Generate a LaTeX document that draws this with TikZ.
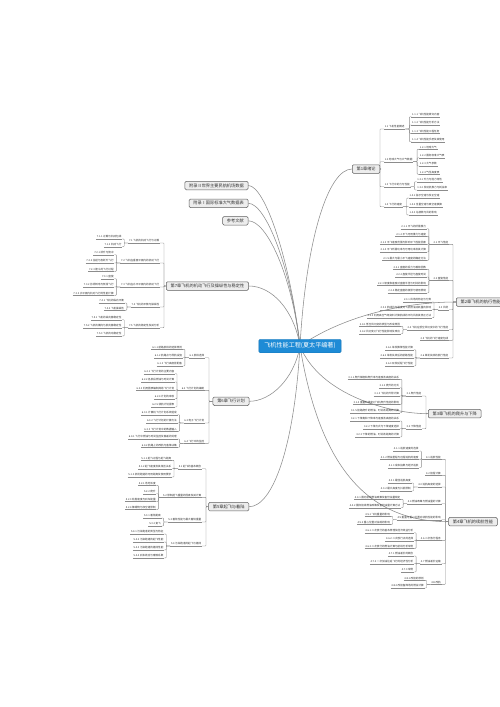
\documentclass[tikz,border=0pt]{standalone}
\usepackage{fontspec}
\setmainfont{Noto Sans CJK SC}
\usetikzlibrary{calc,backgrounds}
\definecolor{lnc}{HTML}{8C8C8C}
\definecolor{txt}{HTML}{333333}
\definecolor{rootblue}{HTML}{1E8BD6}
\definecolor{chapfill}{HTML}{EDEDED}
\definecolor{chapdraw}{HTML}{5E5E5E}
\newcommand\Lsub[4]{\node[tnode,anchor=east] (#1) at (#2,#3) {#4};}
\newcommand\Rsub[4]{\node[tnode,anchor=west] (#1) at (#2,#3) {#4};}
\newcommand\Lleaf[4]{%
  \path (#2.west) ++(-6,0) coordinate (#1-p);
  \node[tnode,anchor=east] (#1) at (#1-p |- 0,#3) {#4};
  \draw[conn] (#2.south west) -| ([xshift=2pt]#1.south east) -- (#1.south east);}
\newcommand\Rleaf[4]{%
  \path (#2.east) ++(6,0) coordinate (#1-p);
  \node[tnode,anchor=west] (#1) at (#1-p |- 0,#3) {#4};
  \draw[conn] (#2.south east) -| ([xshift=-2pt]#1.south west) -- (#1.south west);}
\newcommand\Lch[2]{\draw[conn] (#1.west) -| ([xshift=4pt]#2.south east) -- (#2.south east);}
\newcommand\Rch[2]{\draw[conn] (#1.east) -| ([xshift=-4pt]#2.south west) -- (#2.south west);}
\begin{document}
\begin{tikzpicture}[x=1pt,y=-1pt,
  conn/.style={draw=lnc,line width=0.4pt,rounded corners=0.7pt},
  curve/.style={draw=lnc,line width=0.55pt},
  root/.style={fill=rootblue,draw=rootblue!85!black,line width=0.4pt,rounded corners=1.3pt,text=white,
    font=\fontsize{6.1}{6.1}\selectfont,inner xsep=5.5pt,inner ysep=0pt,minimum height=13.5pt},
  chap/.style={fill=chapfill,draw=chapdraw,line width=0.5pt,rounded corners=1.3pt,text=txt,
    font=\fontsize{4.2}{4.2}\selectfont,inner xsep=4.3pt,inner ysep=0pt,minimum height=8.5pt},
  tnode/.style={text=txt,font=\fontsize{2.6}{2.6}\selectfont,inner xsep=0.6pt,inner ysep=0pt,
    text height=2.1pt,text depth=0.6pt,minimum height=3.6pt,
    append after command={(\tikzlastnode.south west) edge[conn] (\tikzlastnode.south east)}}]
\useasboundingbox (0,0) rectangle (500,707);
% ---------- first-level nodes ----------
\node[root] (root) at (300,346) {飞机性能工程(夏太平编著)};
\node[chap,anchor=east] (a2) at (248.3,185.5) {附录Ⅱ世界主要民航机场数据};
\node[chap,anchor=east] (a1) at (248.3,203.3) {附录Ⅰ国际标准大气数据表};
\node[chap,anchor=east] (rf) at (248.3,220.8) {参考文献};
\node[chap,anchor=west] (c7) at (166,286) {第7章飞机的机动飞行及操纵性与稳定性};
\node[chap,anchor=west] (c6) at (212.7,401.3) {第6章飞行计划};
\node[chap,anchor=west] (c5) at (208.3,506.7) {第5章起飞与着陆};
\node[chap,anchor=west] (c1) at (352,169) {第1章绪论};
\node[chap,anchor=west] (c2) at (456,302) {第2章飞机的航行性能};
\node[chap,anchor=west] (c3) at (428,413.7) {第3章飞机的爬升与下降};
\node[chap,anchor=west] (c4) at (448.3,521.7) {第4章飞机的续航性能};
% ---------- curves from root (behind the boxes) ----------
\begin{pgfonlayer}{background}
\fill[white] (0,0) rectangle (500,707);
\draw[curve] (root.center) .. controls (290,260) and (265,185.5) .. (a2.east);
\draw[curve] (root.center) .. controls (291,268) and (266,203.3) .. (a1.east);
\draw[curve] (root.center) .. controls (292,276) and (267,220.8) .. (rf.east);
\draw[curve] (root.center) .. controls (294,310) and (272,286) .. (c7.east);
\draw[curve] (root.center) .. controls (294,380) and (270,401.3) .. (c6.east);
\draw[curve] (root.center) .. controls (294,450) and (272,506.7) .. (c5.east);
\draw[curve] (root.center) .. controls (306,240) and (328,169) .. (c1.west);
\draw[curve] (root.center) .. controls (340,318) and (400,302) .. (c2.west);
\draw[curve] (root.center) .. controls (320,395) and (390,413.7) .. (c3.west);
\draw[curve] (root.center) .. controls (320,470) and (370,521.7) .. (c4.west);
\end{pgfonlayer}
% ---------- Chapter 1 ----------
\Rsub{s11}{384}{127}{1.1 飞机性能概述}
\Rsub{s12}{384}{159.7}{1.2 地球大气与大气数据}
\Rsub{s13}{384}{184.7}{1.3 飞行中的力与性能}
\Rsub{s14}{384}{204.7}{1.4 飞行的速度}
\Rch{c1}{s11}\Rch{c1}{s12}\Rch{c1}{s13}\Rch{c1}{s14}
\Rleaf{l111}{s11}{114.7}{1.1.1 飞机性能研究内容}
\Rleaf{l112}{s11}{123}{1.1.2 飞机性能分析方法}
\Rleaf{l113}{s11}{131.3}{1.1.3 飞机性能工程任务}
\Rleaf{l114}{s11}{139.7}{1.1.4 飞机性能手册及其使用}
\Rleaf{l121}{s12}{147.3}{1.2.1 地球大气}
\Rleaf{l122}{s12}{155.7}{1.2.2 国际标准大气表}
\Rleaf{l123}{s12}{164}{1.2.3 大气参数}
\Rleaf{l124}{s12}{172.3}{1.2.4 气压高度表}
\Rleaf{l131}{s13}{179.7}{1.3.1 升力与阻力特性}
\Rleaf{l132}{s13}{188}{1.3.2 发动机推力与耗油率}
\Rleaf{l141}{s14}{196}{1.4.1 指示空速与校正空速}
\Rleaf{l142}{s14}{204.7}{1.4.2 当量空速与真空速换算}
\Rleaf{l143}{s14}{213}{1.4.3 马赫数与风的影响}
% ---------- Chapter 2 ----------
\Lsub{s21}{449}{242.3}{2.1 平飞性能}
\Lsub{s22}{449}{278.3}{2.2 盘旋性能}
\Lsub{s23}{449}{307.7}{2.3 风场}
\Lsub{s24}{449}{327.7}{2.4 飞机在低空风切变中的飞行性能}
\Lsub{s25}{449}{338.3}{2.5 飞机的飞行速度包线}
\Lsub{s26}{449}{356}{2.6 单发失效的航行性能}
\Lch{c2}{s21}\Lch{c2}{s22}\Lch{c2}{s23}\Lch{c2}{s24}\Lch{c2}{s25}\Lch{c2}{s26}
\Lleaf{l211}{s21}{226.7}{2.1.1 平飞的所需推力}
\Lleaf{l212}{s21}{234.3}{2.1.2 平飞可用推力与速度}
\Lleaf{l213}{s21}{242.3}{2.1.3 平飞速度范围与影响平飞性能因素}
\Lleaf{l214}{s21}{250}{2.1.4 平飞所需功率与可用功率及其计算}
\Lleaf{l215}{s21}{258.3}{2.1.5 最大与最小平飞速度的确定方法}
\Lleaf{l221}{s22}{267.3}{2.2.1 盘旋的受力与载荷因数}
\Lleaf{l222}{s22}{275}{2.2.2 盘旋半径与盘旋时间}
\Lleaf{l223}{s22}{283.3}{2.2.3 坡度和速度对盘旋半径与时间的影响}
\Lleaf{l224}{s22}{291}{2.2.4 稳定盘旋的极限与使用限制}
\Lleaf{l231}{s23}{300}{2.3.1 风场的特征与分类}
\Lleaf{l232}{s23}{307.7}{2.3.2 航线风与温度对飞机燃油消耗量的影响}
\Lleaf{l233}{s23}{315.7}{2.3.3 利用高空气象资料计算航线的平均风及其修正方法}
\Lleaf{l241}{s24}{324.3}{2.4.1 低空风切变的类型与形成原因}
\Lleaf{l242}{s24}{331.7}{2.4.2 风切变对飞行性能影响及改出}
\Lleaf{l261}{s26}{347.7}{2.6.1 单发飘降性能计算}
\Lleaf{l262}{s26}{356}{2.6.2 单发失效后的航路性能}
\Lleaf{l263}{s26}{364}{2.6.3 双发延程飞行性能}
% ---------- Chapter 3 ----------
\Lsub{s31}{422}{394}{3.1 爬升性能}
\Lsub{s32}{422}{426.7}{3.2 下降性能}
\Lch{c3}{s31}\Lch{c3}{s32}
\Lleaf{l311}{s31}{377.3}{3.1.1 爬升梯度和爬升率与速度及高度的关系}
\Lleaf{l312}{s31}{385.7}{3.1.2 爬升的方式}
\Lleaf{l313}{s31}{394}{3.1.3 飞机的升限计算}
\Lleaf{l314}{s31}{402.3}{3.1.4 重量和温度对飞机爬升性能的影响}
\Lleaf{l315}{s31}{410.7}{3.1.5 航路爬升的燃油、时间及距离的计算}
\Lleaf{l321}{s32}{419}{3.2.1 下降角和下降率与速度及高度的关系}
\Lleaf{l322}{s32}{426.7}{3.2.2 下降方式与下降速度选择}
\Lleaf{l323}{s32}{435}{3.2.3 下降的燃油、时间及距离的计算}
% ---------- Chapter 4 ----------
\Lsub{s41}{441.5}{457.3}{4.1 巡航性能}
\Lsub{s42}{441.5}{473.3}{4.2 航程计算}
\Lsub{s43}{441.5}{485}{4.3 巡航高度的选择}
\Lsub{s44}{441.5}{501.7}{4.4 燃油政策与燃油量的计算}
\Lsub{s45}{441.5}{517.7}{4.5 重量与重心位置对续航性能的影响}
\Lsub{s46}{441.5}{538.3}{4.6 二次放行程序}
\Lsub{s47}{441.5}{561.7}{4.7 燃油差价运输}
\Lsub{s48}{441.5}{582.3}{4.8 改航}
\Lch{c4}{s41}\Lch{c4}{s42}\Lch{c4}{s43}\Lch{c4}{s44}\Lch{c4}{s45}\Lch{c4}{s46}\Lch{c4}{s47}\Lch{c4}{s48}
\Lleaf{l411}{s41}{449}{4.1.1 巡航速度的选择}
\Lleaf{l412}{s41}{457.3}{4.1.2 燃油里程与远程巡航的速度}
\Lleaf{l413}{s41}{465.7}{4.1.3 成本指数与经济巡航}
\Lleaf{l431}{s43}{481}{4.3.1 最佳巡航高度}
\Lleaf{l432}{s43}{489}{4.3.2 最大高度与抖振限制}
\Lleaf{l441}{s44}{497.3}{4.4.1 国内航线燃油政策及备份油量规定}
\Lleaf{l442}{s44}{505.7}{4.4.2 国际航线燃油政策及备份油量计算方法}
\Lleaf{l451}{s45}{514.3}{4.5.1 飞机重量的影响}
\Lleaf{l452}{s45}{522.3}{4.5.2 重心位置对油耗的影响}
\Lleaf{l461}{s46}{530.7}{4.6.1 二次放行的基本原理及经济效益分析}
\Lleaf{l462}{s46}{538.7}{4.6.2 二次放行点的选择}
\Lleaf{l463}{s46}{546.3}{4.6.3 二次放行的燃油计算与航线分析举例}
\Lleaf{l471}{s47}{554}{4.7.1 燃油差价的概念}
\Lleaf{l472}{s47}{561.7}{4.7.2 一次加油往返飞行的经济性分析}
\Lleaf{l473}{s47}{570}{4.7.3 举例}
\Lleaf{l481}{s48}{578.3}{4.8.1 改航的原则}
\Lleaf{l482}{s48}{586}{4.8.2 改航备降场的燃油计算}
% ---------- Chapter 5 ----------
\Lsub{s51}{202}{466.7}{5.1 起飞的基本概念}
\Lsub{s52}{202}{495.3}{5.2 限制起飞重量的因素及其计算}
\Lsub{s53}{202}{520}{5.3 着陆性能与最大着陆重量}
\Lsub{s54}{202}{544}{5.4 污染跑道的起飞与着陆}
\Lch{c5}{s51}\Lch{c5}{s52}\Lch{c5}{s53}\Lch{c5}{s54}
\Lleaf{l511}{s51}{458.3}{5.1.1 起飞过程与起飞距离}
\Lleaf{l512}{s51}{466.7}{5.1.2 起飞速度及其相互关系}
\Lleaf{l513}{s51}{475}{5.1.3 机场跑道的可用距离及使用要求}
\Lleaf{l521}{s52}{483.3}{5.2.1 场地长度}
\Lleaf{l522}{s52}{491.7}{5.2.2 爬升}
\Lleaf{l523}{s52}{499.3}{5.2.3 轮胎速度与刹车能量}
\Lleaf{l524}{s52}{507.3}{5.2.4 障碍物与净空道限制}
\Lleaf{l531}{s53}{516}{5.3.1 着陆距离}
\Lleaf{l532}{s53}{524}{5.3.2 复飞}
\Lleaf{l541}{s54}{532}{5.4.1 污染跑道的类型与特征}
\Lleaf{l542}{s54}{540}{5.4.2 污染跑道的起飞性能}
\Lleaf{l543}{s54}{548}{5.4.3 污染跑道的着陆性能}
\Lleaf{l544}{s54}{556}{5.4.4 刹车效应与摩擦系数}
% ---------- Chapter 6 ----------
\Lsub{s61}{205}{355.7}{6.1 航线选择}
\Lsub{s62}{205}{388.3}{6.2 飞行计划的编制}
\Lsub{s63}{205}{421}{6.3 电子飞行计划}
\Lsub{s64}{205}{441.3}{6.4 飞行中的监控}
\Lch{c6}{s61}\Lch{c6}{s62}\Lch{c6}{s63}\Lch{c6}{s64}
\Lleaf{l611}{s61}{347.3}{6.1.1 航路航线的选择原则}
\Lleaf{l612}{s61}{355.7}{6.1.2 航路点与导航设施}
\Lleaf{l613}{s61}{364}{6.1.3 飞行高度层配备}
\Lleaf{l621}{s62}{371.7}{6.2.1 飞行计划的主要内容}
\Lleaf{l622}{s62}{380}{6.2.2 各航段燃油与时间计算}
\Lleaf{l623}{s62}{388.3}{6.2.3 利用图表编制简易飞行计划}
\Lleaf{l624}{s62}{396.7}{6.2.4 计划的审核}
\Lleaf{l625}{s62}{405}{6.2.5 领航计划报表}
\Lleaf{l631}{s63}{412.7}{6.3.1 计算机飞行计划系统组成}
\Lleaf{l632}{s63}{421}{6.3.2 飞行计划的计算方法}
\Lleaf{l633}{s63}{429.3}{6.3.3 飞行计划中的数据输入}
\Lleaf{l641}{s64}{437}{6.4.1 飞行中燃油与时间监控及偏差的处理}
\Lleaf{l642}{s64}{445.5}{6.4.2 航路上的改航与备降决策}
% ---------- Chapter 7 ----------
\Lsub{s71}{160}{241}{7.1 飞机的机动飞行与过载}
\Lsub{s72}{160}{261}{7.2 飞机在垂直平面内的机动飞行}
\Lsub{s73}{160}{285}{7.3 飞机在水平平面内的机动飞行}
\Lsub{s74}{160}{305}{7.4 飞机的平衡与操纵性}
\Lsub{s75}{160}{325.7}{7.5 飞机的稳定性及其分析}
\Lch{c7}{s71}\Lch{c7}{s72}\Lch{c7}{s73}\Lch{c7}{s74}\Lch{c7}{s75}
\Lleaf{l711}{s71}{237}{7.1.1 过载与机动包线}
\Lleaf{l712}{s71}{244.7}{7.1.2 机动飞行}
\Lleaf{l721}{s72}{252.7}{7.2.1 跃升与俯冲}
\Lleaf{l722}{s72}{261}{7.2.2 拉起与急跃升飞行}
\Lleaf{l723}{s72}{269.3}{7.2.3 筋斗的飞行过程}
\Lleaf{l731}{s73}{276.7}{7.3.1 盘旋}
\Lleaf{l732}{s73}{285}{7.3.2 协调转弯与侧滑飞行}
\Lleaf{l733}{s73}{293.3}{7.3.3 水平面内机动飞行的性能计算}
\Lleaf{l741}{s74}{301}{7.4.1 飞机的纵向平衡}
\Lleaf{l742}{s74}{308.3}{7.4.2 飞机操纵性}
\Lleaf{l751}{s75}{317.7}{7.5.1 飞机的纵向静稳定性}
\Lleaf{l752}{s75}{325.7}{7.5.2 飞机的横向与航向静稳定性}
\Lleaf{l753}{s75}{334}{7.5.3 飞机的动稳定性}
\end{tikzpicture}
\end{document}
